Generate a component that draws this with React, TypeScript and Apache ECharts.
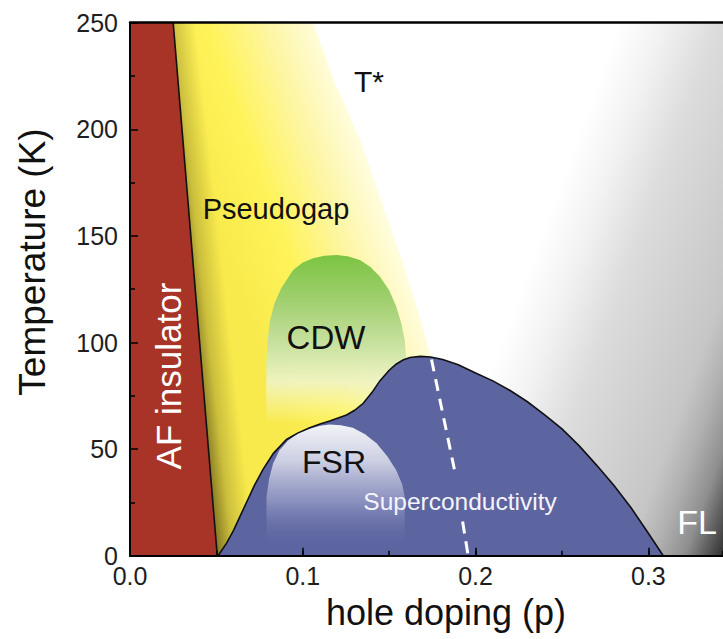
import React, { useEffect, useRef } from 'react';
import * as echarts from 'echarts';

const FONT = "'Liberation Sans', Arial, Helvetica, sans-serif";

// axis ranges and labelled ticks
const xRange = [0, 0.3432];
const yRange = [0, 250];
const xMajorTicks = [0, 0.1, 0.2, 0.3];
const yMajorTicks = [0, 50, 100, 150, 200, 250];

// phase boundaries, each point is [hole doping p, temperature K]
const afBoundary: number[][] = [[0.025, 250], [0.0505, 0]];

const tStarLine: number[][] = [
  [0.106, 250], [0.1179, 223], [0.1333, 195], [0.1452, 167], [0.1573, 139],
  [0.1683, 110.5], [0.1741, 93.2],
];

const scDome: number[][] = [
  [0.051, 0], [0.056, 6], [0.06, 12], [0.064, 19], [0.068, 26], [0.072, 33], [0.077, 40.5],
  [0.083, 48], [0.0906, 54.5], [0.097, 57.5], [0.104, 60], [0.11, 61.8], [0.1156, 63.2],
  [0.1253, 66], [0.13, 68.2], [0.135, 71.5], [0.14, 76.5], [0.1446, 82], [0.15, 87],
  [0.154, 89.8], [0.158, 91.8], [0.162, 93], [0.168, 93.5], [0.174, 93.2], [0.181, 92],
  [0.19, 89.6], [0.2006, 85.5], [0.21, 82], [0.22, 77.5], [0.23, 72.2], [0.24, 66],
  [0.25, 59.5], [0.26, 51.5], [0.27, 42.5], [0.28, 33], [0.29, 22.5], [0.3, 10.5], [0.3086, 0],
];

const cdwDome: number[][] = [
  [0.0789, 62], [0.0789, 90], [0.0795, 100], [0.081, 110], [0.0835, 118], [0.0875, 125.5],
  [0.0944, 134], [0.1, 137.5], [0.106, 139.5], [0.1125, 140.7], [0.1195, 141], [0.126, 140.5],
  [0.133, 138.7], [0.139, 135.5], [0.1446, 131], [0.15, 124.5], [0.154, 117], [0.157, 109],
  [0.159, 101], [0.16, 90], [0.16, 62],
];

const fsrDome: number[][] = [
  [0.079, 3], [0.079, 27.7], [0.0805, 36], [0.0828, 43.3], [0.0865, 49.5], [0.0915, 54],
  [0.0975, 57.5], [0.104, 59.5], [0.11, 61], [0.1156, 61.5], [0.122, 61.2], [0.129, 60],
  [0.136, 57], [0.1427, 52.7], [0.149, 46.5], [0.154, 40.2], [0.1575, 33.5], [0.159, 27.7], [0.159, 3],
];

// white dashed crossover line through the superconducting dome
const crossoverUpper: number[][] = [[0.1745, 92], [0.188, 39.5]];
const crossoverLower: number[][] = [[0.1925, 16], [0.1957, 0]];

// region names
const labelTStar = 'T*';
const labelPseudogap = 'Pseudogap';
const labelCDW = 'CDW';
const labelFSR = 'FSR';
const labelSC = 'Superconductivity';
const labelFL = 'FL';
const labelAF = 'AF insulator';

const LG = echarts.graphic.LinearGradient;

function renderPhases(params: any, api: any) {
  const cs = params.coordSys;
  const c = (p: number[]) => api.coord(p) as number[];
  const poly = (arr: number[][]) => arr.map(c);

  // Fermi-liquid shading, darkening towards the lower right corner
  const g0 = c([0.272, yRange[1]]);
  const flFill = new LG(g0[0], g0[1], g0[0] + 0.938 * 300, g0[1] + 0.346 * 300, [
    { offset: 0, color: '#ffffff' },
    { offset: 0.06, color: '#ffffff' },
    { offset: 0.2, color: '#f2f2f2' },
    { offset: 0.37, color: '#dcdcdc' },
    { offset: 0.7, color: '#c6c6c6' },
    { offset: 0.79, color: '#afafaf' },
    { offset: 0.88, color: '#8e8e8e' },
    { offset: 1, color: '#303030' },
  ], true);

  // pseudogap: between the AF boundary, T* and the superconducting dome
  const tEnd = tStarLine[tStarLine.length - 1];
  const domeBelow = scDome.filter((p) => p[0] <= tEnd[0]).slice().reverse();
  const pgPts = poly([afBoundary[0], ...tStarLine, ...domeBelow, afBoundary[1]]);

  const ts0 = c(tStarLine[0]);
  const ts1 = c(tEnd);
  const dx = ts1[0] - ts0[0];
  const dy = ts1[1] - ts0[1];
  const len = Math.hypot(dx, dy);
  const nx = dy / len;
  const ny = -dx / len;
  const pgFill = new LG(ts0[0] - 160 * nx, ts0[1] - 160 * ny, ts0[0] + 6 * nx, ts0[1] + 6 * ny, [
    { offset: 0, color: '#f8ea4c' },
    { offset: 0.36, color: '#fff35a' },
    { offset: 0.72, color: '#fdf6a8' },
    { offset: 1, color: '#fffde0' },
  ], true);

  // shading along the AF boundary
  const af0 = c(afBoundary[0]);
  const gx = 0.9937;
  const gy = -0.1119;
  const shadeFill = new LG(af0[0] - 23 * gx, af0[1] - 23 * gy, af0[0] + 22 * gx, af0[1] + 22 * gy, [
    { offset: 0, color: 'rgba(45,35,5,0.75)' },
    { offset: 0.511, color: 'rgba(45,35,5,0.22)' },
    { offset: 1, color: 'rgba(45,35,5,0)' },
  ], true);

  const cdwFill = new LG(0, 0, 0, 1, [
    { offset: 0, color: '#7bc442' },
    { offset: 0.3, color: '#a5d175' },
    { offset: 0.55, color: '#cbe3a3' },
    { offset: 0.75, color: 'rgba(238,243,200,0.9)' },
    { offset: 1, color: 'rgba(252,250,205,0)' },
  ]);

  const fsrFill = new LG(0, 0, 0, 1, [
    { offset: 0, color: '#f2f3f7' },
    { offset: 0.3, color: '#cbcee1' },
    { offset: 0.62, color: 'rgba(150,156,198,0.78)' },
    { offset: 1, color: 'rgba(93,101,161,0)' },
  ]);

  const afPts = poly([[xRange[0], yRange[1]], afBoundary[0], afBoundary[1], [xRange[0], yRange[0]]]);
  const dash = { fill: null, stroke: '#ffffff', lineWidth: 3, lineDash: [12, 8] };

  return {
    type: 'group',
    children: [
      { type: 'rect', shape: { x: cs.x, y: cs.y, width: cs.width, height: cs.height }, style: { fill: flFill } },
      { type: 'polygon', shape: { points: pgPts }, style: { fill: pgFill } },
      { type: 'polygon', shape: { points: pgPts }, style: { fill: shadeFill } },
      { type: 'polygon', shape: { points: poly(cdwDome) }, style: { fill: cdwFill } },
      { type: 'polygon', shape: { points: poly(scDome) }, style: { fill: '#5d65a1' } },
      { type: 'polygon', shape: { points: poly(fsrDome) }, style: { fill: fsrFill } },
      { type: 'polyline', shape: { points: poly(scDome) }, style: { fill: null, stroke: '#111', lineWidth: 1.6 } },
      { type: 'polygon', shape: { points: afPts }, style: { fill: '#a83427' } },
      { type: 'polyline', shape: { points: poly(afBoundary) }, style: { fill: null, stroke: '#111', lineWidth: 1.6 } },
      { type: 'polyline', shape: { points: poly(crossoverUpper) }, style: dash },
      { type: 'polyline', shape: { points: poly(crossoverLower) }, style: dash },
    ],
  };
}

function label(text: string, x: number, y: number, size: number, color: string, rotation = 0) {
  return {
    type: 'text',
    x,
    y,
    rotation,
    z: 100,
    silent: true,
    style: {
      text,
      fill: color,
      fontSize: size,
      fontFamily: FONT,
      textAlign: 'center',
      textVerticalAlign: 'middle',
      verticalAlign: 'middle',
    },
  };
}

export default function App() {
  const ref = useRef<HTMLDivElement>(null);

  useEffect(() => {
    document.body.style.margin = '0';
    if (!ref.current) return;
    const chart = echarts.init(ref.current, null, { renderer: 'svg' });

    const tickLine = { color: '#000', width: 1.5 };
    const labelStyle = { fontSize: 25, color: '#1e1e1e', fontFamily: FONT };

    chart.setOption({
      animation: false,
      backgroundColor: '#ffffff',
      grid: { left: 130, top: 22.7, right: 0, bottom: 83.3, containLabel: false, outerBoundsMode: 'none' },
      xAxis: [
        {
          type: 'value',
          position: 'bottom',
          min: xRange[0],
          max: xRange[1],
          interval: 0.1,
          z: 10,
          axisLine: { show: true, lineStyle: { color: '#000', width: 2 } },
          axisTick: { show: true, inside: true, length: 8, lineStyle: tickLine },
          axisLabel: {
            ...labelStyle,
            margin: 9,
            lineHeight: 22,
            showMaxLabel: false,
            formatter: (v: number) =>
              xMajorTicks.some((t) => Math.abs(t - v) < 1e-9) ? v.toFixed(1) : '',
          },
          splitLine: { show: false },
        },
        {
          type: 'value',
          position: 'bottom',
          min: xRange[0],
          max: xRange[1],
          interval: 0.05,
          z: 10,
          axisLine: { show: false },
          axisTick: { show: true, inside: true, length: 5, lineStyle: tickLine },
          axisLabel: { show: false },
          splitLine: { show: false },
        },
        {
          type: 'value',
          position: 'top',
          min: xRange[0],
          max: xRange[1],
          z: 10,
          axisLine: { show: true, lineStyle: { color: '#000', width: 2.5 } },
          axisTick: { show: false },
          axisLabel: { show: false },
          splitLine: { show: false },
        },
      ],
      yAxis: {
        type: 'value',
        min: yRange[0],
        max: yRange[1],
        interval: 50,
        z: 10,
        axisLine: { show: true, lineStyle: { color: '#000', width: 2 } },
        axisTick: { show: true, inside: true, length: 8, lineStyle: tickLine },
        minorTick: { show: true, splitNumber: 2, length: 5, lineStyle: tickLine },
        axisLabel: {
          ...labelStyle,
          margin: 12,
          lineHeight: 16,
          formatter: (v: number) => (yMajorTicks.includes(v) ? String(v) : ''),
        },
        splitLine: { show: false },
      },
      series: [
        {
          type: 'custom',
          coordinateSystem: 'cartesian2d',
          xAxisIndex: 0,
          yAxisIndex: 0,
          silent: true,
          data: [[0, 0]],
          renderItem: renderPhases,
        },
      ],
      graphic: [
        label(labelTStar, 369, 81, 30, '#111'),
        label(labelPseudogap, 276, 209, 29, '#111'),
        label(labelCDW, 326, 337, 33, '#111'),
        label(labelFSR, 334, 462, 32, '#111'),
        label(labelSC, 460, 501, 24.5, '#f4f4fa'),
        label(labelFL, 697, 522, 34, '#ffffff'),
        label(labelAF, 168, 376, 35, '#ffffff', Math.PI / 2),
        label('Temperature (K)', 32, 262, 37, '#111', Math.PI / 2),
        label('hole doping (p)', 446, 612, 36, '#111'),
      ],
    });

    return () => chart.dispose();
  }, []);

  return <div ref={ref} style={{ width: 723, height: 639 }} />;
}
